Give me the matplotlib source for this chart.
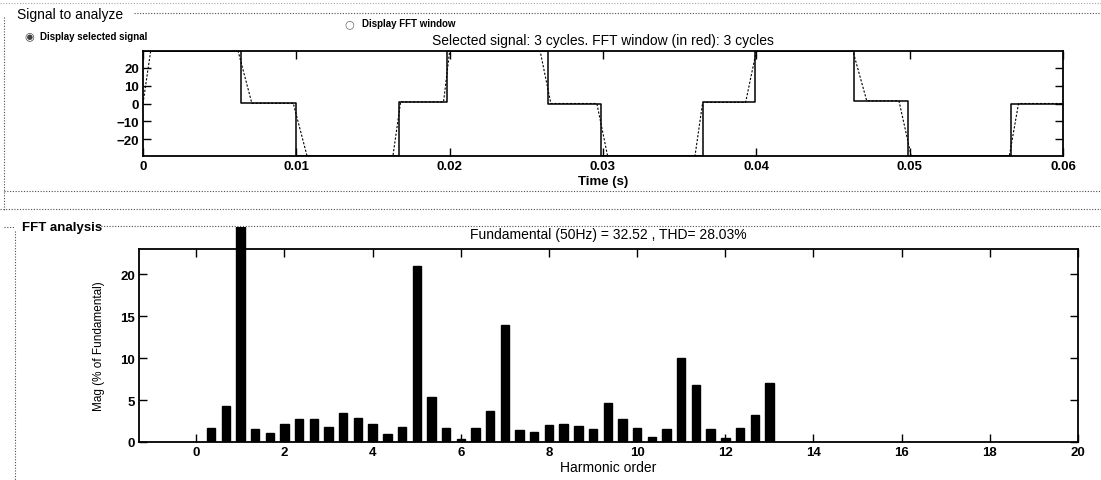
import numpy as np
import matplotlib
matplotlib.use("Agg")
import matplotlib.pyplot as plt
from matplotlib.lines import Line2D
from matplotlib.ticker import FuncFormatter
from matplotlib.transforms import Bbox, TransformedBbox

plt.rcParams['font.family'] = ['Liberation Sans', 'DejaVu Sans']

# Selected signal (3 cycles, 50 Hz)
v_peak = 29.5
switch_t = [0.0064, 0.0100, 0.0167, 0.0198, 0.0264, 0.0299,
            0.0365, 0.0399, 0.0464, 0.0499, 0.0566]
levels = [v_peak, 0.1, -v_peak, 0.9, v_peak, 0.0,
          -v_peak, 0.6, v_peak, 1.5, -v_peak, 0.0]
# second trace with sloped edges
ramp_start = [0.0000, 0.0062, 0.0098, 0.0163, 0.0196, 0.0259,
              0.0296, 0.0360, 0.0393, 0.0463, 0.0493, 0.0565]
ramp_end = [0.0005, 0.0071, 0.0107, 0.0168, 0.0200, 0.0266,
            0.0303, 0.0365, 0.0400, 0.0472, 0.0501, 0.0571]
t_end = 0.06

# FFT magnitudes (% of fundamental), bins every 1/3 harmonic order
cycles = 3
fft_mag = [1.7, 4.3, 100.0, 1.6, 1.1, 2.1, 2.7, 2.8, 1.8, 3.4,
           2.9, 2.2, 0.9, 1.8, 21.0, 5.4, 1.7, 0.4, 1.7, 3.7,
           14.0, 1.4, 1.2, 2.0, 2.2, 1.9, 1.5, 4.6, 2.7, 1.7,
           0.6, 1.6, 10.0, 6.8, 1.6, 0.5, 1.7, 3.2, 7.0]
fund_hz = 50
fund_mag = 32.52
thd = 28.03

W, H = 1101, 481


def fx(px):
    return px / W


def fy(py):
    return 1 - py / H


fig = plt.figure(figsize=(W / 100, H / 100), dpi=100)
fig.patch.set_facecolor("white")

# ---- build traces
t_step, v_step = [0.0], [levels[0]]
for i, ts in enumerate(switch_t):
    t_step += [ts, ts]
    v_step += [levels[i], levels[i + 1]]
t_step.append(t_end)
v_step.append(levels[-1])

prev = [0.0] + levels[:-1]
t_slope, v_slope = [], []
for i in range(len(levels)):
    t_slope += [ramp_start[i], ramp_end[i]]
    v_slope += [prev[i], levels[i]]
t_slope.append(t_end)
v_slope.append(levels[-1])

tick_kw = dict(direction="in", top=True, right=True, length=6, width=1,
               labelsize=9.5, pad=3)

# ---- signal axes
ax1 = fig.add_axes([fx(143), fy(157), fx(1063) - fx(143), fy(52) - fy(157)])
ax1.plot(t_slope, v_slope, color="black", lw=0.8, ls=(0, (2, 1.5)))
ax1.plot(t_step, v_step, color="black", lw=1.1)
ax1.set_xlim(0, t_end)
ax1.set_ylim(-v_peak, v_peak)
ax1.set_xticks(np.arange(0, 0.061, 0.01))
ax1.set_yticks([-20, -10, 0, 10, 20])
ax1.xaxis.set_major_formatter(FuncFormatter(lambda v, _: "0" if abs(v) < 1e-9 else f"{v:.2f}"))
ax1.tick_params(**tick_kw)
for lab in ax1.get_xticklabels() + ax1.get_yticklabels():
    lab.set_fontweight("bold")
ax1.set_xlabel("Time (s)", fontsize=9.5, fontweight="bold")
ax1.xaxis.set_label_coords(0.5, -0.18)
ax1.set_title("Selected signal: %d cycles. FFT window (in red): %d cycles" % (cycles, cycles),
              fontsize=10, pad=5)
for s in ax1.spines.values():
    s.set_linewidth(1.3)

# ---- FFT axes
ax2 = fig.add_axes([fx(139), fy(443), fx(1078) - fx(139), fy(250) - fy(443)])
orders = np.arange(1, len(fft_mag) + 1) / cycles
bars = ax2.bar(orders, fft_mag, width=0.19, color="black", edgecolor="black")
ax2.set_xlim(-1.3, 20)
ax2.set_ylim(0, 23)
ax2.set_xticks(np.arange(0, 21, 2))
ax2.set_yticks([0, 5, 10, 15, 20])
ax2.tick_params(**tick_kw)
for lab in ax2.get_xticklabels() + ax2.get_yticklabels():
    lab.set_fontweight("bold")
ax2.set_xlabel("Harmonic order", fontsize=10)
ax2.xaxis.set_label_coords(0.5, -0.095)
ax2.set_ylabel("Mag (% of Fundamental)", fontsize=8.5)
ax2.yaxis.set_label_coords(-0.036, 0.5)
ax2.set_title("Fundamental (%dHz) = %.2f , THD= %.2f%%" % (fund_hz, fund_mag, thd),
              fontsize=10, pad=8)
for s in ax2.spines.values():
    s.set_linewidth(1.3)

# the fundamental bar runs past the top of the axes up to the panel frame
top_frac = (fy(228) - fy(443)) / (fy(250) - fy(443))
clip = TransformedBbox(Bbox([[0, 0], [1, top_frac]]), ax2.transAxes)
for b in bars:
    b.set_clip_box(clip)

# ---- panel frames and controls
dot = dict(transform=fig.transFigure, color="0.3", lw=0.8, ls=(0, (1, 1.5)))
fig.add_artist(Line2D([0, 1], [fy(4), fy(4)], alpha=0.5, **dot))
fig.add_artist(Line2D([fx(4), fx(4)], [fy(18), fy(212)], **dot))
fig.add_artist(Line2D([fx(134), 1], [fy(14), fy(14)], **dot))
fig.add_artist(Line2D([fx(4), 1], [fy(192), fy(192)], **dot))
fig.add_artist(Line2D([0, 1], [fy(210), fy(210)], **dot))
fig.add_artist(Line2D([fx(98), 1], [fy(227), fy(227)], **dot))
fig.add_artist(Line2D([fx(15), fx(15)], [fy(232), 0], **dot))
fig.add_artist(Line2D([fx(4), fx(15)], [fy(228), fy(228)], **dot))

fig.text(fx(17), fy(15), "Signal to analyze", fontsize=10, va="center", ha="left")
fig.text(fx(22), fy(228), "FFT analysis", fontsize=9.5, fontweight="bold",
         va="center", ha="left")
fig.text(fx(24), fy(37), "\u25c9", fontsize=8, va="center", ha="left",
         family=["DejaVu Sans"], color="0.25")
fig.text(fx(40), fy(37), "Display selected signal", fontsize=7, fontweight="bold",
         va="center", ha="left")
fig.text(fx(344), fy(24), "\u25cb", fontsize=8, va="center", ha="left",
         family=["DejaVu Sans"], color="0.4")
fig.text(fx(362), fy(24), "Display FFT window", fontsize=7, fontweight="bold",
         va="center", ha="left")

fig.savefig("out.png", dpi=100, facecolor="white")
